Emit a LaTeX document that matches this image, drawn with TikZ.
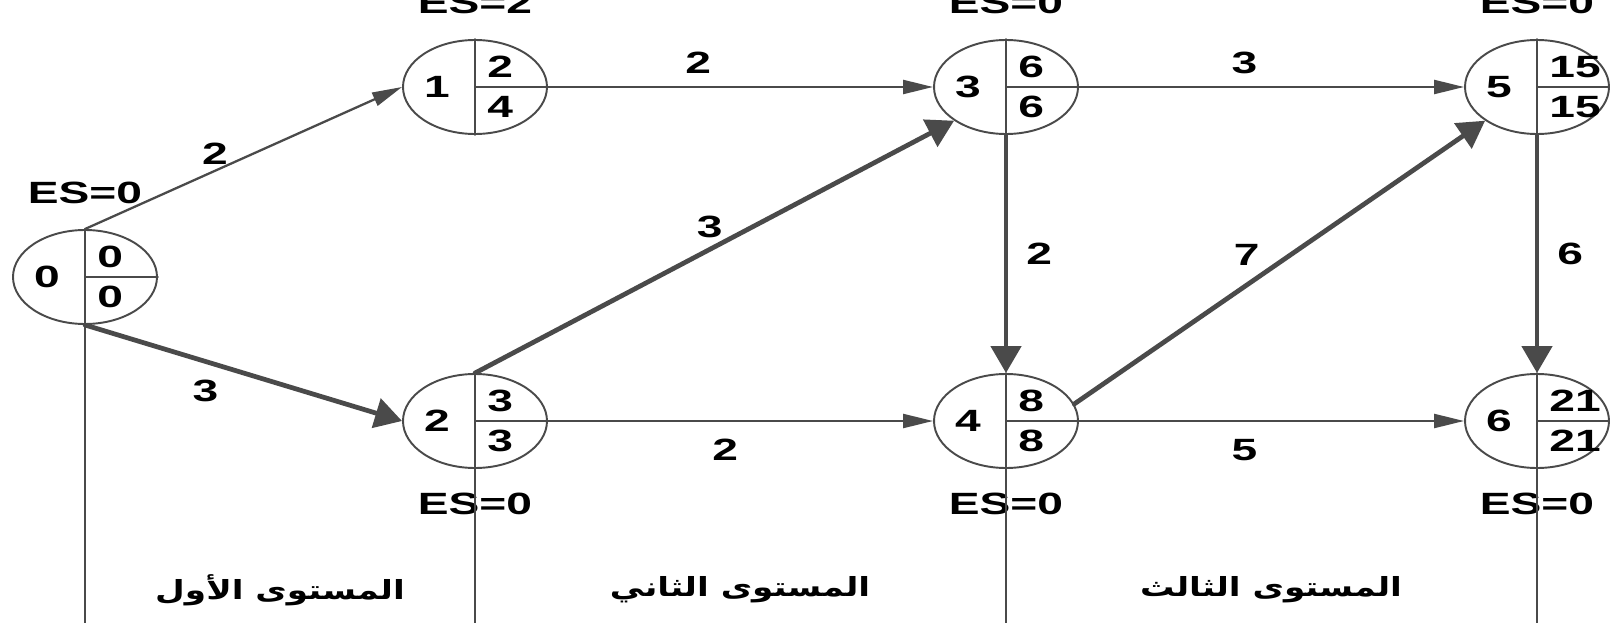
\documentclass[tikz,border=0pt]{standalone}
\usepackage{fontspec}
\setmainfont{Liberation Sans}[FakeStretch=1.5]
\newfontfamily\arabicfont[Script=Arabic,FakeStretch=1.3]{DejaVu Sans}
\TeXXeTstate=1
\usetikzlibrary{arrows.meta,calc,positioning,shapes.geometric}
\definecolor{linegray}{HTML}{4A4A4A}

\begin{document}
\begin{tikzpicture}[
  x=0.2mm, y=-0.2mm,
  line cap=round,
  line join=round,
  font=\fontsize{17.5}{20}\selectfont\bfseries,
  event/.style={ellipse, draw=linegray, line width=1.1pt, minimum width=28.8mm, minimum height=18.8mm, inner sep=0pt},
  divider/.style={draw=linegray, line width=1.1pt},
  num/.style={inner sep=0pt},
  act/.style={-{Triangle[length=6mm,width=2.8mm]}, draw=linegray, fill=linegray, line width=1.3pt},
  crit/.style={-{Triangle[length=5.4mm,width=6mm]}, draw=linegray, fill=linegray, line width=2.7pt},
  level/.style={draw=linegray, line width=1.1pt},
  levellabel/.style={inner sep=0pt, font=\arabicfont\bfseries\fontsize{15}{18}\selectfont}
]

\useasboundingbox (0,0) rectangle (1610,623);

% Events with their early and late times.
\foreach \n/\x/\y/\es/\lf in {0/85/277/0/0, 1/475/87/2/4, 2/475/421/3/3, 3/1006/87/6/6,
                               4/1006/421/8/8, 5/1537/87/15/15, 6/1537/421/21/21}{
  \node[event] (n\n) at (\x,\y) {};
  \draw[divider] (n\n.north) -- (n\n.south);
  \draw[divider] (n\n.center) -- (n\n.east);
  \node[num] (id\n) at ($(n\n.center)+(-38,0)$) {\n};
  \node[num, anchor=west] (es\n) at ($(n\n.center)+(12,-20)$) {\es};
  \node[num, anchor=west] (lf\n) at ($(n\n.center)+(12,20)$) {\lf};
}

% Start labels.
\node[num, above=5mm of n0] (start0) {ES=0};
\node[num, above=5mm of n1] (start1) {ES=2};
\node[num, above=5mm of n3] (start3) {ES=0};
\node[num, above=5mm of n5] (start5) {ES=0};
\node[num, below=4.8mm of n2] (start2) {ES=0};
\node[num, below=4.8mm of n4] (start4) {ES=0};
\node[num, below=4.8mm of n6] (start6) {ES=0};

% Activities.
\draw[act] (n0.north) -- node[num, pos=0.41, above=1mm] (d01) {2} (n1.west);
\draw[act] (n1.east) -- node[num, pos=0.39, above=2.4mm] (d13) {2} (n3.west);
\draw[act] (n3.east) -- node[num, pos=0.43, above=2.4mm] (d35) {3} (n5.west);
\draw[act] (n2.east) -- node[num, pos=0.46, below=3.4mm] (d24) {2} (n4.west);
\draw[act] (n4.east) -- node[num, pos=0.43, below=3.4mm] (d46) {5} (n6.west);

% Critical activities.
\draw[crit] (n0.south) -- node[num, pos=0.38, below=3.2mm] (d02) {3} (n2.west);
\draw[crit] (n2.north) -- node[num, pos=0.49, above=1.8mm] (d23) {3} (n3.213);
\draw[crit] (n3.south) -- node[num, pos=0.5, right=3.6mm] (d34) {2} (n4.north);
\draw[crit] (n4.14) -- node[num, pos=0.42, above=3.5mm] (d45) {7} (n5.213);
\draw[crit] (n5.south) -- node[num, pos=0.5, right=3.6mm] (d56) {6} (n6.north);

% Level boundaries.
\coordinate (base) at (0,640);
\foreach \n in {0,2,4,6}{
  \draw[level] (n\n.south) -- (n\n.south |- base);
}

\node[levellabel] (lv1) at (280,590) {\beginR المستوى الأول\endR};
\node[levellabel] (lv2) at (740,590) {\beginR المستوى الثاني\endR};
\node[levellabel] (lv3) at (1271,590) {\beginR المستوى الثالث\endR};

\end{tikzpicture}
\end{document}
